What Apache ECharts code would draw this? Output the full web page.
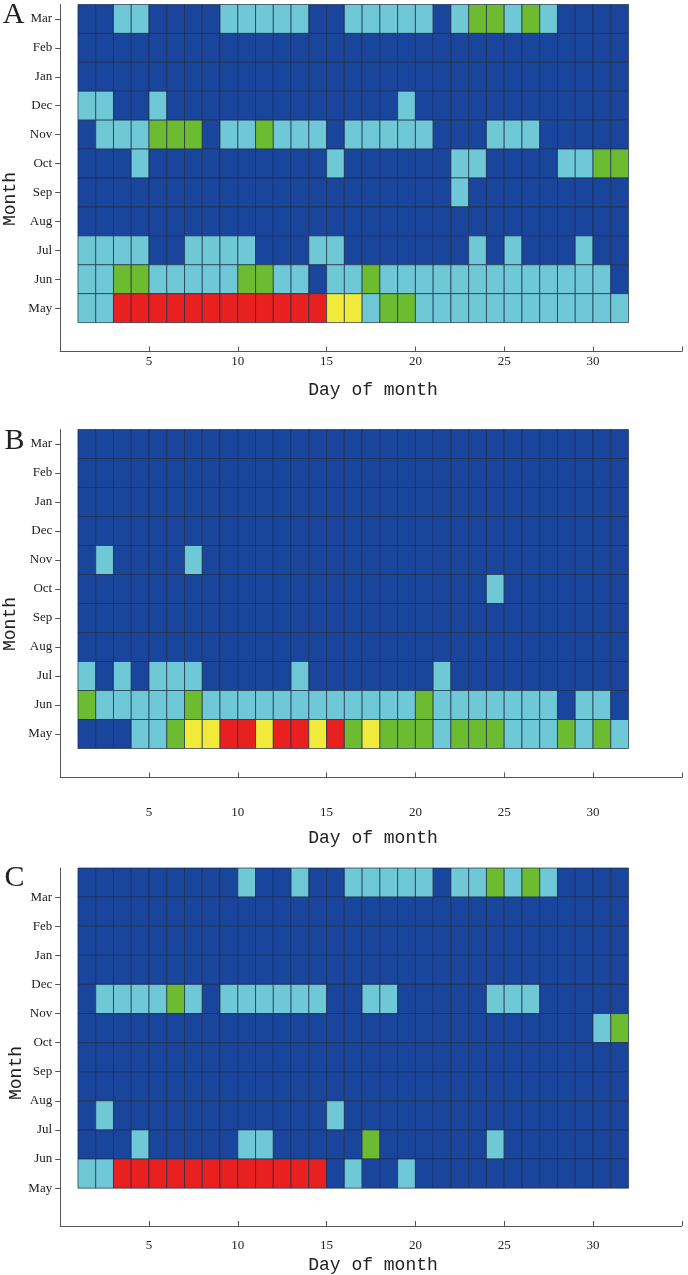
<!DOCTYPE html>
<html>
<head>
<meta charset="utf-8">
<script src="https://cdn.jsdelivr.net/npm/echarts@6/dist/echarts.min.js"></script>
<style>
  html, body { margin: 0; padding: 0; background: #fff; }
  #main { width: 688px; height: 1275px; }
</style>
</head>
<body>
<div id="main"></div>
<script>
// month labels from bottom (May) to top (Mar), y value 1..11
var months = ['May', 'Jun', 'Jul', 'Aug', 'Sep', 'Oct', 'Nov', 'Dec', 'Jan', 'Feb', 'Mar'];
var dayTicks = [5, 10, 15, 20, 25, 30];
// level 0 dark blue, 1 light blue, 2 green, 3 yellow, 4 red
var levelColors = ['#1a459d', '#6fc8d6', '#6cbb30', '#f2ea3a', '#e82020'];

// rows top to bottom (Mar ... May), one value per day 1..31
var panelA = [
  [0,0,1,1,0, 0,0,0,1,1, 1,1,1,0,0, 1,1,1,1,1, 0,1,2,2,1, 2,1,0,0,0, 0],
  [0,0,0,0,0, 0,0,0,0,0, 0,0,0,0,0, 0,0,0,0,0, 0,0,0,0,0, 0,0,0,0,0, 0],
  [0,0,0,0,0, 0,0,0,0,0, 0,0,0,0,0, 0,0,0,0,0, 0,0,0,0,0, 0,0,0,0,0, 0],
  [1,1,0,0,1, 0,0,0,0,0, 0,0,0,0,0, 0,0,0,1,0, 0,0,0,0,0, 0,0,0,0,0, 0],
  [0,1,1,1,2, 2,2,0,1,1, 2,1,1,1,0, 1,1,1,1,1, 0,0,0,1,1, 1,0,0,0,0, 0],
  [0,0,0,1,0, 0,0,0,0,0, 0,0,0,0,1, 0,0,0,0,0, 0,1,1,0,0, 0,0,1,1,2, 2],
  [0,0,0,0,0, 0,0,0,0,0, 0,0,0,0,0, 0,0,0,0,0, 0,1,0,0,0, 0,0,0,0,0, 0],
  [0,0,0,0,0, 0,0,0,0,0, 0,0,0,0,0, 0,0,0,0,0, 0,0,0,0,0, 0,0,0,0,0, 0],
  [1,1,1,1,0, 0,1,1,1,1, 0,0,0,1,1, 0,0,0,0,0, 0,0,1,0,1, 0,0,0,1,0, 0],
  [1,1,2,2,1, 1,1,1,1,2, 2,1,1,0,1, 1,2,1,1,1, 1,1,1,1,1, 1,1,1,1,1, 0],
  [1,1,4,4,4, 4,4,4,4,4, 4,4,4,4,3, 3,1,2,2,1, 1,1,1,1,1, 1,1,1,1,1, 1]
];
var panelB = [
  [0,0,0,0,0, 0,0,0,0,0, 0,0,0,0,0, 0,0,0,0,0, 0,0,0,0,0, 0,0,0,0,0, 0],
  [0,0,0,0,0, 0,0,0,0,0, 0,0,0,0,0, 0,0,0,0,0, 0,0,0,0,0, 0,0,0,0,0, 0],
  [0,0,0,0,0, 0,0,0,0,0, 0,0,0,0,0, 0,0,0,0,0, 0,0,0,0,0, 0,0,0,0,0, 0],
  [0,0,0,0,0, 0,0,0,0,0, 0,0,0,0,0, 0,0,0,0,0, 0,0,0,0,0, 0,0,0,0,0, 0],
  [0,1,0,0,0, 0,1,0,0,0, 0,0,0,0,0, 0,0,0,0,0, 0,0,0,0,0, 0,0,0,0,0, 0],
  [0,0,0,0,0, 0,0,0,0,0, 0,0,0,0,0, 0,0,0,0,0, 0,0,0,1,0, 0,0,0,0,0, 0],
  [0,0,0,0,0, 0,0,0,0,0, 0,0,0,0,0, 0,0,0,0,0, 0,0,0,0,0, 0,0,0,0,0, 0],
  [0,0,0,0,0, 0,0,0,0,0, 0,0,0,0,0, 0,0,0,0,0, 0,0,0,0,0, 0,0,0,0,0, 0],
  [1,0,1,0,1, 1,1,0,0,0, 0,0,1,0,0, 0,0,0,0,0, 1,0,0,0,0, 0,0,0,0,0, 0],
  [2,1,1,1,1, 1,2,1,1,1, 1,1,1,1,1, 1,1,1,1,2, 1,1,1,1,1, 1,1,0,1,1, 0],
  [0,0,0,1,1, 2,3,3,4,4, 3,4,4,3,4, 2,3,2,2,2, 1,2,2,2,1, 1,1,2,1,2, 1]
];
// panel C rows sit between the tick labels (label = lower edge of the row)
var panelC = [
  [0,0,0,0,0, 0,0,0,0,1, 0,0,1,0,0, 1,1,1,1,1, 0,1,1,2,1, 2,1,0,0,0, 0],
  [0,0,0,0,0, 0,0,0,0,0, 0,0,0,0,0, 0,0,0,0,0, 0,0,0,0,0, 0,0,0,0,0, 0],
  [0,0,0,0,0, 0,0,0,0,0, 0,0,0,0,0, 0,0,0,0,0, 0,0,0,0,0, 0,0,0,0,0, 0],
  [0,0,0,0,0, 0,0,0,0,0, 0,0,0,0,0, 0,0,0,0,0, 0,0,0,0,0, 0,0,0,0,0, 0],
  [0,1,1,1,1, 2,1,0,1,1, 1,1,1,1,0, 0,1,1,0,0, 0,0,0,1,1, 1,0,0,0,0, 0],
  [0,0,0,0,0, 0,0,0,0,0, 0,0,0,0,0, 0,0,0,0,0, 0,0,0,0,0, 0,0,0,0,1, 2],
  [0,0,0,0,0, 0,0,0,0,0, 0,0,0,0,0, 0,0,0,0,0, 0,0,0,0,0, 0,0,0,0,0, 0],
  [0,0,0,0,0, 0,0,0,0,0, 0,0,0,0,0, 0,0,0,0,0, 0,0,0,0,0, 0,0,0,0,0, 0],
  [0,1,0,0,0, 0,0,0,0,0, 0,0,0,0,1, 0,0,0,0,0, 0,0,0,0,0, 0,0,0,0,0, 0],
  [0,0,0,1,0, 0,0,0,0,1, 1,0,0,0,0, 0,2,0,0,0, 0,0,0,1,0, 0,0,0,0,0, 0],
  [1,1,4,4,4, 4,4,4,4,4, 4,4,4,4,0, 1,0,0,1,0, 0,0,0,0,0, 0,0,0,0,0, 0]
];

function toCells(rows) {
  var out = [];
  rows.forEach(function (row, i) {
    row.forEach(function (lvl, j) {
      out.push([j + 1, months.length - i, lvl]);
    });
  });
  return out;
}

// cell for day d covers [d, d+1]; shift moves rows half a step up (panel C)
function cellItem(shift) {
  return function (params, api) {
    var d = api.value(0), m = api.value(1) + shift;
    var p0 = api.coord([d, m + 0.5]);
    var p1 = api.coord([d + 1, m - 0.5]);
    return {
      type: 'rect',
      shape: { x: p0[0], y: p0[1], width: p1[0] - p0[0], height: p1[1] - p0[1] },
      style: { fill: levelColors[api.value(2)], stroke: '#1d2c48', lineWidth: 0.7 }
    };
  };
}

var axisColor = '#555';
var monoFont = 'Liberation Mono';
var tickFont = 'Liberation Serif';

function dayAxis(gi, margin) {
  return {
    type: 'value', gridIndex: gi, min: 0, max: 35, interval: 5,
    axisLine: { onZero: false, lineStyle: { color: axisColor, width: 1 } },
    axisTick: { inside: true, length: 5, lineStyle: { color: axisColor } },
    axisLabel: {
      margin: margin, color: '#222', fontFamily: tickFont, fontSize: 13,
      formatter: function (v) { return dayTicks.indexOf(v) >= 0 ? String(v) : ''; }
    },
    splitLine: { show: false }
  };
}

function monthAxis(gi, min, max) {
  var vals = months.map(function (m, i) { return i + 1; });
  return {
    type: 'value', gridIndex: gi, min: min, max: max,
    axisLine: { onZero: false, lineStyle: { color: axisColor, width: 1 } },
    axisTick: { length: 5, customValues: vals, lineStyle: { color: axisColor } },
    axisLabel: {
      customValues: vals, margin: 8, color: '#222', fontFamily: tickFont, fontSize: 13,
      formatter: function (v) { return months[Math.round(v) - 1]; }
    },
    splitLine: { show: false }
  };
}

function label(text, x, y, size, font, rot) {
  return {
    type: 'text', x: x, y: y, rotation: rot || 0,
    style: { text: text, fill: '#222', font: size + 'px "' + font + '"', align: 'center', verticalAlign: 'middle' }
  };
}

var chart = echarts.init(document.getElementById('main'));
chart.setOption({
  animation: false,
  grid: [
    { left: 60.2, top: 4.5, width: 621.6, height: 347, outerBoundsMode: 'none' },
    { left: 60.2, top: 429.5, width: 621.6, height: 348, outerBoundsMode: 'none' },
    { left: 60.2, top: 868, width: 621.6, height: 358, outerBoundsMode: 'none' }
  ],
  xAxis: [dayAxis(0, 4), dayAxis(1, 29), dayAxis(2, 13)],
  yAxis: [monthAxis(0, -0.5, 11.5), monthAxis(1, -0.5, 11.5), monthAxis(2, -0.3, 12)],
  series: [
    { type: 'custom', xAxisIndex: 0, yAxisIndex: 0, renderItem: cellItem(0), data: toCells(panelA), encode: { x: 0, y: 1 } },
    { type: 'custom', xAxisIndex: 1, yAxisIndex: 1, renderItem: cellItem(0), data: toCells(panelB), encode: { x: 0, y: 1 } },
    { type: 'custom', xAxisIndex: 2, yAxisIndex: 2, renderItem: cellItem(0.5), data: toCells(panelC), encode: { x: 0, y: 1 } }
  ],
  graphic: [
    label('A', 13.5, 15, 30, 'Liberation Serif'),
    label('B', 14.5, 441, 30, 'Liberation Serif'),
    label('C', 14.5, 878, 30, 'Liberation Serif'),
    label('Month', 10, 199, 18, monoFont, Math.PI / 2),
    label('Month', 10, 624, 18, monoFont, Math.PI / 2),
    label('Month', 16, 1073, 18, monoFont, Math.PI / 2),
    label('Day of month', 373, 390, 18, monoFont),
    label('Day of month', 373, 838, 18, monoFont),
    label('Day of month', 373, 1265, 18, monoFont)
  ]
});
</script>
</body>
</html>
